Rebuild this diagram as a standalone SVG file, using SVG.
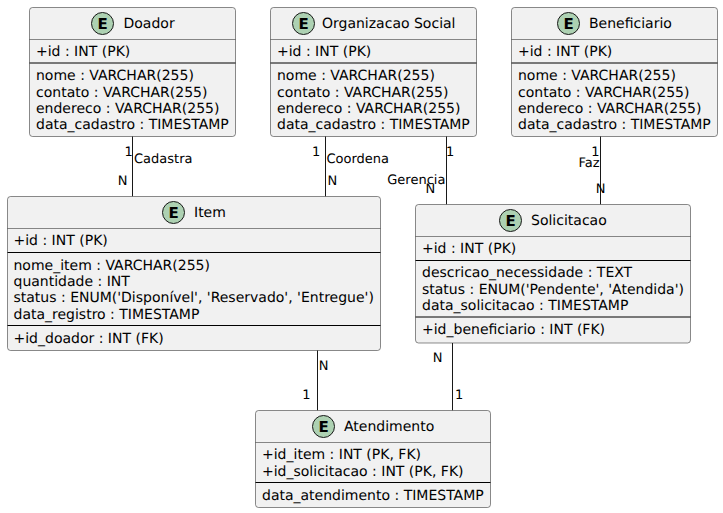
<svg xmlns="http://www.w3.org/2000/svg" width="723" height="513" viewBox="0 0 723 513">
<style>
text{font-family:"DejaVu Sans",sans-serif;font-size:14px;fill:#000;text-rendering:geometricPrecision}
.l{font-size:13px}
.b{fill:#F1F1F1;stroke:#181818;stroke-width:.5}
.h{stroke:#181818;stroke-width:.5;fill:none}
.s{stroke:#000;stroke-width:1;fill:none}
.c{fill:#ADD1B2;stroke:#181818;stroke-width:1}
.e{font-weight:bold;font-size:15px;text-anchor:middle}
.cn{stroke:#181818;stroke-width:1;fill:none}
</style>
<rect width="723" height="513" fill="#fff"/>
<g id="connectors">
<path class="cn" d="M132.5 136V196.5"/>
<path class="cn" d="M325.5 136V196.5"/>
<path class="cn" d="M446.5 136V204.5"/>
<path class="cn" d="M600.5 136V204.5"/>
<path class="cn" d="M317.5 350V410.5"/>
<path class="cn" d="M452.5 343V410.5"/>
<text class="l" x="124.5" y="156">1</text><text class="l" x="117.7" y="185">N</text><text class="l" x="134" y="163">Cadastra</text>
<text class="l" x="312" y="156">1</text><text class="l" x="327.5" y="185">N</text><text class="l" x="326.5" y="163">Coordena</text>
<text class="l" x="446" y="156">1</text><text class="l" x="425.5" y="193">N</text><text class="l" x="387.3" y="184">Gerencia</text>
<text class="l" x="591.3" y="156">1</text><text class="l" x="595.7" y="193">N</text><text class="l" x="578.5" y="167">Faz</text>
<text class="l" x="318.7" y="370">N</text><text class="l" x="302.3" y="399">1</text>
<text class="l" x="432.7" y="362">N</text><text class="l" x="455" y="399">1</text>
</g>
<g id="doador">
<rect class="b" x="29.5" y="7.5" width="206" height="129" rx="3"/>
<path class="h" d="M29.5 39.5H235.5"/><path class="s" d="M29.5 63H235.5"/>
<circle class="c" cx="102.5" cy="23.5" r="11"/><text class="e" x="102.5" y="29">E</text>
<text x="123.5" y="28">Doador</text>
<text x="36" y="56">+id : INT (PK)</text>
<text x="36" y="80">nome : VARCHAR(255)</text><text x="36" y="97">contato : VARCHAR(255)</text><text x="36" y="113">endereco : VARCHAR(255)</text><text x="36" y="129">data_cadastro : TIMESTAMP</text>
</g>
<g id="organizacao-social">
<rect class="b" x="270.5" y="7.5" width="206" height="129" rx="3"/>
<path class="h" d="M270.5 39.5H476.5"/><path class="s" d="M270.5 63H476.5"/>
<circle class="c" cx="303.5" cy="23.5" r="11"/><text class="e" x="303.5" y="29">E</text>
<text x="322" y="28">Organizacao Social</text>
<text x="277" y="56">+id : INT (PK)</text>
<text x="277" y="80">nome : VARCHAR(255)</text><text x="277" y="97">contato : VARCHAR(255)</text><text x="277" y="113">endereco : VARCHAR(255)</text><text x="277" y="129">data_cadastro : TIMESTAMP</text>
</g>
<g id="beneficiario">
<rect class="b" x="511.5" y="7.5" width="206" height="129" rx="3"/>
<path class="h" d="M511.5 39.5H717.5"/><path class="s" d="M511.5 63H717.5"/>
<circle class="c" cx="568.5" cy="23.5" r="11"/><text class="e" x="568.5" y="29">E</text>
<text x="589" y="28">Beneficiario</text>
<text x="518" y="56">+id : INT (PK)</text>
<text x="518" y="80">nome : VARCHAR(255)</text><text x="518" y="97">contato : VARCHAR(255)</text><text x="518" y="113">endereco : VARCHAR(255)</text><text x="518" y="129">data_cadastro : TIMESTAMP</text>
</g>
<g id="item">
<rect class="b" x="7.5" y="196.5" width="373" height="154" rx="3"/>
<path class="h" d="M7.5 228.5H380.5"/><path class="s" d="M7.5 252.5H380.5M7.5 325.5H380.5"/>
<circle class="c" cx="173.5" cy="212.5" r="11"/><text class="e" x="173.5" y="218">E</text>
<text x="194" y="217">Item</text>
<text x="13.5" y="245">+id : INT (PK)</text>
<text x="13.5" y="270">nome_item : VARCHAR(255)</text><text x="13.5" y="286">quantidade : INT</text><text x="13.5" y="302">status : ENUM('Disponível', 'Reservado', 'Entregue')</text><text x="13.5" y="319">data_registro : TIMESTAMP</text>
<text x="13.5" y="343">+id_doador : INT (FK)</text>
</g>
<g id="solicitacao">
<rect class="b" x="415.5" y="204.5" width="275" height="138.5" rx="3"/>
<path class="h" d="M415.5 236.5H690.5"/><path class="s" d="M415.5 260.5H690.5M415.5 317H690.5"/>
<circle class="c" cx="510.5" cy="220.5" r="11"/><text class="e" x="510.5" y="226">E</text>
<text x="531" y="225">Solicitacao</text>
<text x="422" y="253">+id : INT (PK)</text>
<text x="422" y="277">descricao_necessidade : TEXT</text><text x="422" y="294">status : ENUM('Pendente', 'Atendida')</text><text x="422" y="310">data_solicitacao : TIMESTAMP</text>
<text x="422" y="334">+id_beneficiario : INT (FK)</text>
</g>
<g id="atendimento">
<rect class="b" x="255.5" y="410.5" width="235" height="97" rx="3"/>
<path class="h" d="M255.5 442.5H490.5"/><path class="s" d="M255.5 482.5H490.5"/>
<circle class="c" cx="323.5" cy="426.5" r="11"/><text class="e" x="323.5" y="432">E</text>
<text x="344" y="431">Atendimento</text>
<text x="262" y="459">+id_item : INT (PK, FK)</text><text x="262" y="476">+id_solicitacao : INT (PK, FK)</text>
<text x="262" y="500">data_atendimento : TIMESTAMP</text>
</g>
</svg>
